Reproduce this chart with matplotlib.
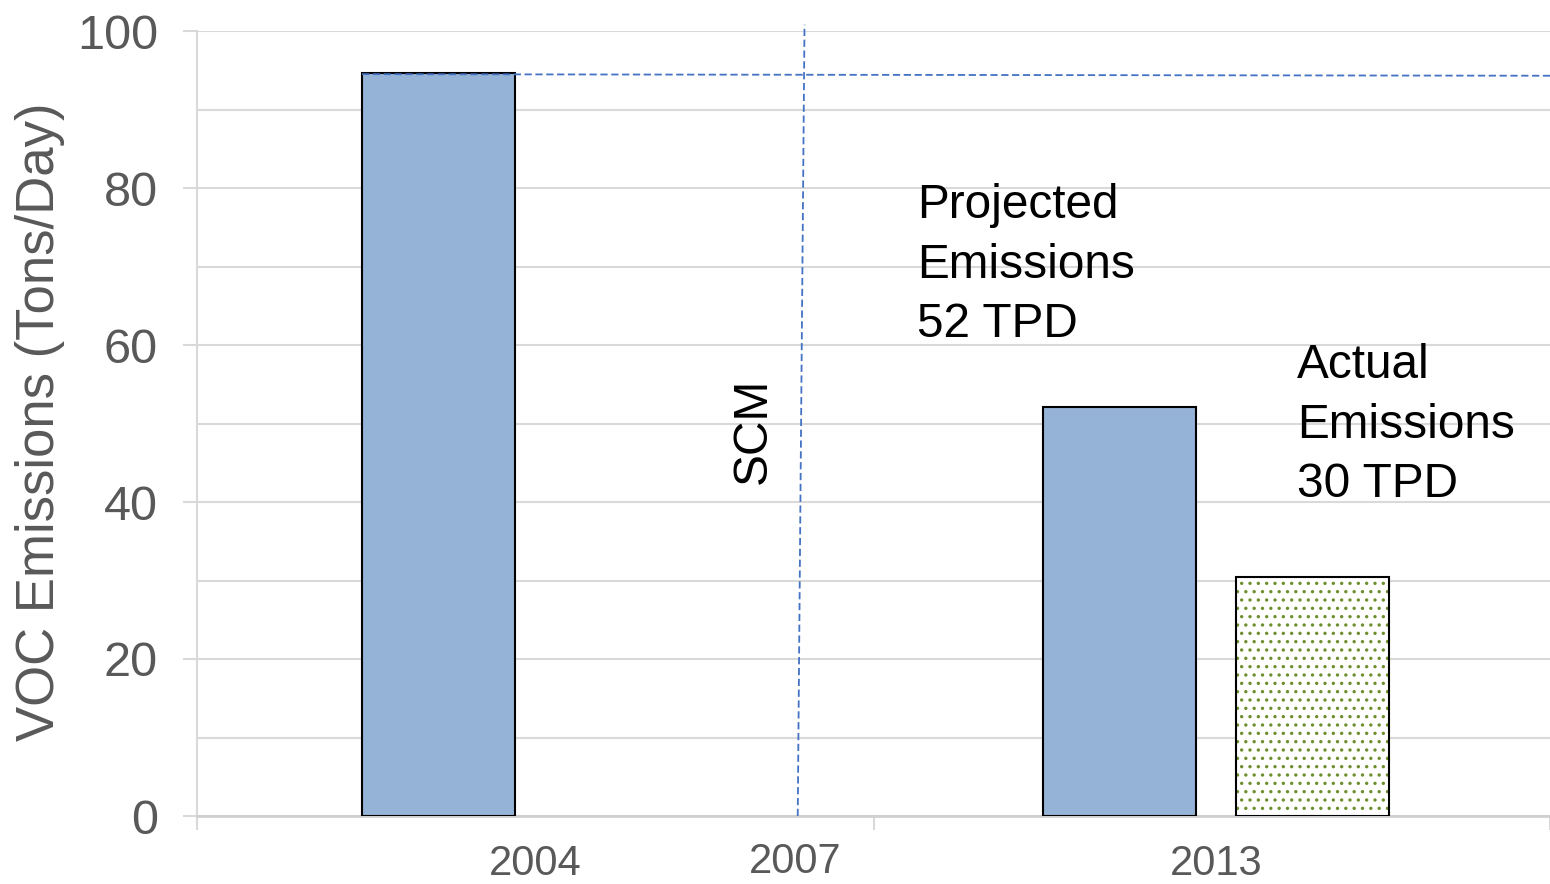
import matplotlib
matplotlib.use("Agg")
import matplotlib.pyplot as plt
import numpy as np

plt.rcParams['font.family'] = ['Liberation Sans', 'DejaVu Sans']
plt.rcParams['hatch.linewidth'] = 1.2

# data
years = ['2004', '2013']
projected = [94.6, 52.1]
actual = [np.nan, 30.4]
scm_year = '2007'
ref_level = [94.5, 94.3]   # dashed line at 2004 level (left, right end)
scm_x = [0.888, 0.898]     # SCM marker line, bottom and top

grey = '#595959'
blue = '#4472c4'

fig = plt.figure(figsize=(15.5, 8.84), dpi=100)
ax = fig.add_axes([197 / 1550, 1 - 816 / 884, 1 - 197 / 1550, (816 - 31) / 884])

x = np.array([0.5, 1.5])
shift = np.array([0.0, 0.006])
w = 0.226
off = 0.143
ax.bar(x - off + shift, projected, w, color='#95b3d7', edgecolor='black', linewidth=1.5, zorder=3)
ax.bar(x + off + shift, actual, w, color='white', edgecolor='#6e8f2e', hatch='..',
       linewidth=0, zorder=3)
ax.bar(x + off + shift, actual, w, fill=False, edgecolor='black', linewidth=1.5, zorder=4)

ax.set_xlim(0, 2)
ax.set_ylim(0, 100)

# dashed reference lines
ax.plot([x[0] - off - w / 2, 2.0], ref_level, color=blue, lw=1.3,
        dashes=(4, 2), zorder=5, clip_on=False)
ax.plot(scm_x, [0, 100.8], color=blue, lw=1.3, dashes=(4, 2), zorder=5, clip_on=False)

# grid / spines
ax.set_yticks(np.arange(0, 101, 20))
ax.set_yticks(np.arange(10, 100, 20), minor=True)
ax.grid(axis='y', which='both', color='#d9d9d9', lw=1.5, zorder=0)
for s in ['top', 'right']:
    ax.spines[s].set_visible(False)
ax.spines['left'].set_color('#d9d9d9')
ax.spines['left'].set_linewidth(1.5)
ax.spines['bottom'].set_color('#d0d0d0')
ax.spines['bottom'].set_linewidth(2)
ax.tick_params(axis='y', which='major', length=10, width=1.5, color='#d9d9d9',
               labelsize=35, labelcolor=grey, pad=18)
ax.tick_params(axis='y', which='minor', length=0)

ax.set_xticks([0, 1, 2])
ax.set_xticklabels(['', '', ''])
ax.set_xticks(x + shift, minor=True)
ax.set_xticklabels(years, minor=True)
ax.tick_params(axis='x', which='major', length=10, width=1.5, color='#d9d9d9')
ax.tick_params(axis='x', which='minor', length=0, labelsize=30, labelcolor=grey, pad=20)
ax.text(scm_x[0] - 0.004, -5.9, scm_year, ha='center', va='center', fontsize=30,
        color=grey, clip_on=False)

fig.text(40 / 1550, 1 - 422 / 884, 'VOC Emissions (Tons/Day)', rotation=90,
         ha='center', va='center', fontsize=38, color=grey)

# annotations
ax.text(1.064, 80.6, 'Projected\nEmissions\n52 TPD', ha='left', va='top',
        fontsize=34.4, linespacing=1.41)
ax.text(1.626, 60.2, 'Actual\nEmissions\n30 TPD', ha='left', va='top',
        fontsize=34.4, linespacing=1.41)
ax.text(0.822, 49.0, 'SCM', rotation=90, ha='center', va='center', fontsize=34.5)

fig.savefig('out.png', dpi=100)
